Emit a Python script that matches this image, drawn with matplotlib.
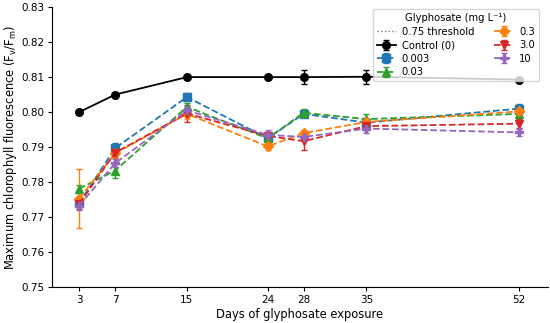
import matplotlib
matplotlib.use("Agg")
import matplotlib.pyplot as plt

days = [3, 7, 15, 24, 28, 35, 52]
series_labels = ["Control (0)", "0.003", "0.03", "0.3", "3.0", "10"]
control = [0.8000, 0.8050, 0.8100, 0.8100, 0.8100, 0.8101, 0.8093]
control_err = [0.0003, 0.0004, 0.0003, 0.0003, 0.0020, 0.0020, 0.0003]
g0003 = [0.7740, 0.7897, 0.8043, 0.7925, 0.7995, 0.7970, 0.8010]
g0003_err = [0.0010, 0.0015, 0.0012, 0.0010, 0.0010, 0.0010, 0.0012]
g003 = [0.7781, 0.7833, 0.8015, 0.7925, 0.7998, 0.7980, 0.7995]
g003_err = [0.0012, 0.0020, 0.0012, 0.0010, 0.0012, 0.0015, 0.0010]
g03 = [0.7753, 0.7882, 0.7995, 0.7902, 0.7940, 0.7972, 0.8002]
g03_err = [0.0085, 0.0012, 0.0015, 0.0010, 0.0010, 0.0010, 0.0010]
g30 = [0.7738, 0.7884, 0.7996, 0.7932, 0.7917, 0.7960, 0.7967]
g30_err = [0.0015, 0.0012, 0.0025, 0.0012, 0.0025, 0.0012, 0.0012]
g10 = [0.7733, 0.7854, 0.8005, 0.7935, 0.7929, 0.7953, 0.7942]
g10_err = [0.0012, 0.0012, 0.0012, 0.0015, 0.0012, 0.0012, 0.0010]
threshold = 0.75

fig = plt.figure(figsize=(5.5, 3.23), dpi=100)
ax = fig.add_axes([0.095, 0.111, 0.901, 0.867])

ax.axhline(threshold, color="gray", linestyle=":", linewidth=1.0, label="0.75 threshold", zorder=1)

ax.errorbar(days, control, yerr=control_err, color="black", linestyle="-", marker="o",
            markersize=5.5, capsize=2.5, linewidth=1.3, elinewidth=1.0, label=series_labels[0], zorder=5)

styles = [
    (g0003, g0003_err, "tab:blue", "s"),
    (g003, g003_err, "tab:green", "^"),
    (g03, g03_err, "tab:orange", "D"),
    (g30, g30_err, "tab:red", "v"),
    (g10, g10_err, "tab:purple", "P"),
]
for lab, (vals, errs, col, mk) in zip(series_labels[1:], styles):
    ax.errorbar(days, vals, yerr=errs, color=col, linestyle="--", marker=mk,
                markersize=5.5, capsize=2.5, linewidth=1.3, elinewidth=1.0, label=lab, zorder=4)

ax.set_xlim(0, 55.2)
ax.set_ylim(0.75, 0.83)
ax.set_xticks(days)
ax.set_yticks([0.75, 0.76, 0.77, 0.78, 0.79, 0.80, 0.81, 0.82, 0.83])
ax.set_yticklabels([f"{v:.2f}" for v in ax.get_yticks()])
ax.tick_params(labelsize=7.5, length=3, pad=2.5)
ax.spines["top"].set_visible(False)
ax.spines["right"].set_visible(False)
ax.set_xlabel("Days of glyphosate exposure", fontsize=8.3, labelpad=2)
ax.set_ylabel("Maximum chlorophyll fluorescence (F$_\\mathrm{v}$/F$_\\mathrm{m}$)", fontsize=8.3, labelpad=2)

handles, labels = ax.get_legend_handles_labels()
leg = ax.legend(handles, labels, title="Glyphosate (mg L\u207b\u00b9)", ncol=2, fontsize=7.2,
                title_fontsize=7.2, loc="upper right", bbox_to_anchor=(0.992, 1.01),
                framealpha=0.8, handlelength=1.9, columnspacing=2.0,
                labelspacing=0.35, borderpad=0.4, handletextpad=0.6)
leg.set_zorder(10)

fig.savefig("out.png", dpi=100)
